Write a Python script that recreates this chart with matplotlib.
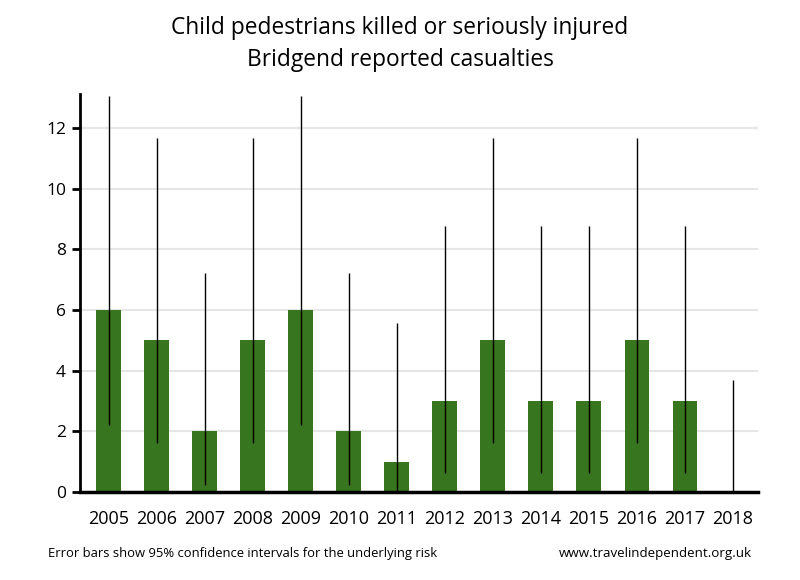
import numpy as np
import matplotlib.pyplot as plt

plt.rcParams['font.family'] = ['Open Sans', 'DejaVu Sans']

years = ['2005', '2006', '2007', '2008', '2009', '2010', '2011',
         '2012', '2013', '2014', '2015', '2016', '2017', '2018']
casualties = [6, 5, 2, 5, 6, 2, 1, 3, 5, 3, 3, 5, 3, 0]
ci_low = [2.2, 1.62, 0.24, 1.62, 2.2, 0.24, 0.03, 0.62, 1.62, 0.62, 0.62, 1.62, 0.62, 0.0]
ci_high = [13.06, 11.67, 7.22, 11.67, 13.06, 7.22, 5.57, 8.77, 11.67, 8.77, 8.77, 11.67, 8.77, 3.69]

fig = plt.figure(figsize=(8, 5.8), dpi=100)
ax = fig.add_axes([0.1, 0.152, 0.8475, 0.686])

x = np.arange(len(years))
ax.bar(x, casualties, width=0.52, color='#37761f', zorder=2)
ax.vlines(x, ci_low, ci_high, color='black', lw=1, zorder=3)

ax.set_xlim(-0.6, 13.52)
ax.set_ylim(0, 13.12)
ax.set_yticks(range(0, 13, 2))
ax.set_xticks(x)
ax.set_xticklabels(years)
ax.tick_params(axis='x', length=0, pad=13, labelsize=13)
ax.tick_params(axis='y', length=6, width=2, pad=4, labelsize=12.5)
ax.yaxis.grid(True, color='#e6e6e6', lw=1.5, zorder=0)
ax.set_axisbelow(True)
for s in ['top', 'right']:
    ax.spines[s].set_visible(False)
ax.spines['left'].set_linewidth(2)
ax.spines['bottom'].set_linewidth(2.5)

# title, two lines
fig.text(0.5, 0.952, 'Child pedestrians killed or seriously injured',
         ha='center', va='center', fontsize=16.4)
fig.text(0.5, 0.897, 'Bridgend reported casualties',
         ha='center', va='center', fontsize=16.4)
# footer
fig.text(0.06, 0.046, 'Error bars show 95% confidence intervals for the underlying risk',
         ha='left', va='center', fontsize=9.4)
fig.text(0.94, 0.046, 'www.travelindependent.org.uk',
         ha='right', va='center', fontsize=9.6)

fig.savefig('out.png', dpi=100)
